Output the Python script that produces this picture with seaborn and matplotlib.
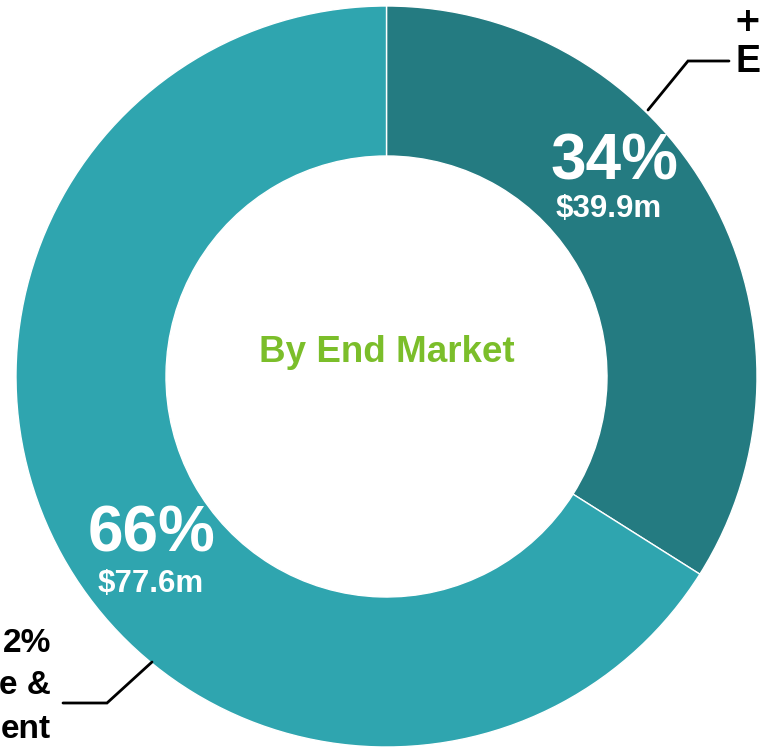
import matplotlib
matplotlib.use("Agg")
import matplotlib.pyplot as plt
import seaborn as sns

sns.set_theme(style="white")
plt.rcParams["font.family"] = ["Liberation Sans", "DejaVu Sans"]

# Revenue by end market ($m)
segments = ["Segment A", "Segment B"]
revenue_m = [39.9, 77.6]
pct_labels = ["34%", "66%"]
value_labels = ["$39.9m", "$77.6m"]
colors = ["#247B81", "#2FA5AF"]
center_title = "By End Market"

W, H = 761, 748
fig = plt.figure(figsize=(W / 100, H / 100), dpi=100)
ax = fig.add_axes([0, 0, 1, 1])

cx, cy = 386.5, H - 376.5
r_out, ring = 370.5, 150

ax.pie(
    revenue_m,
    colors=colors,
    startangle=90,
    counterclock=False,
    center=(cx, cy),
    radius=r_out,
    wedgeprops=dict(width=ring, edgecolor="white", linewidth=1.0),
)
ax.set_xlim(0, W)
ax.set_ylim(0, H)
ax.set_aspect("equal")
ax.axis("off")

# Centre caption
ax.text(cx, H - 352, center_title, color="#7BBE2A", fontsize=26.5,
        fontweight="bold", ha="center", va="center")

# Segment labels
ax.text(614, H - 162, pct_labels[0], color="white", fontsize=46,
        fontweight="bold", ha="center", va="center")
ax.text(609, H - 209, value_labels[0], color="white", fontsize=22.5,
        fontweight="bold", ha="center", va="center")
ax.text(151, H - 535, pct_labels[1], color="white", fontsize=46,
        fontweight="bold", ha="center", va="center")
ax.text(151, H - 584, value_labels[1], color="white", fontsize=22.5,
        fontweight="bold", ha="center", va="center")

# Leader lines to the outer callouts
ax.plot([648, 688, 729], [H - 110, H - 61, H - 61], color="black", lw=2,
        solid_joinstyle="miter")
ax.plot([152, 107, 63], [H - 662, H - 703, H - 703], color="black", lw=2,
        solid_joinstyle="miter")

# Callout text at the figure edges
ax.text(747, H - 21, "+", color="black", fontsize=24, fontweight="heavy",
        family=["DejaVu Sans"], ha="center", va="center")
ax.text(735, H - 62, "E", color="black", fontsize=27, fontweight="bold",
        ha="left", va="center")
ax.text(51, H - 644, "2%", color="black", fontsize=24, fontweight="bold",
        ha="right", va="center")
ax.text(51, H - 686, "e &", color="black", fontsize=24, fontweight="bold",
        ha="right", va="center")
ax.text(51, H - 730, "ent", color="black", fontsize=24, fontweight="bold",
        ha="right", va="center")

fig.savefig("out.png", dpi=100, facecolor="white")
